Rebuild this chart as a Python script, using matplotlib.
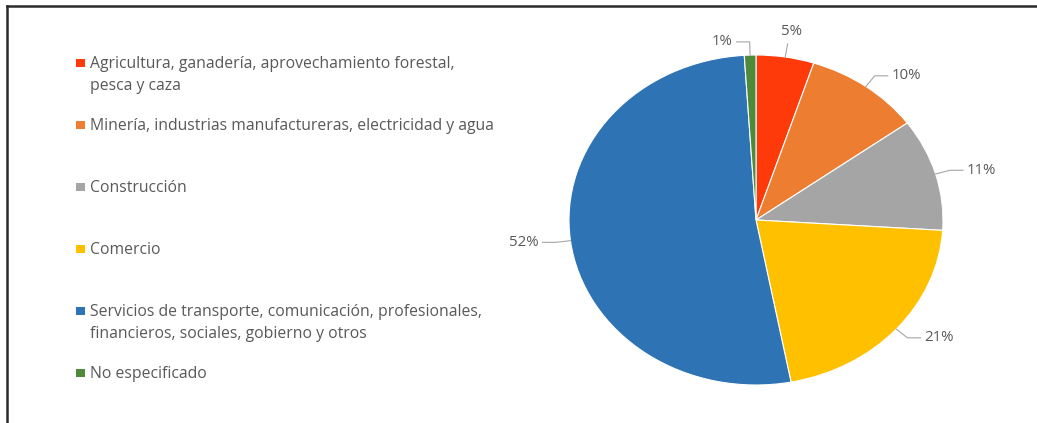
import numpy as np
import matplotlib.pyplot as plt
from matplotlib.patches import Rectangle
from matplotlib.lines import Line2D

plt.rcParams['font.family'] = ['Open Sans', 'DejaVu Sans']

sectores = [
    "Agricultura, ganadería, aprovechamiento forestal,\npesca y caza",
    "Minería, industrias manufactureras, electricidad y agua",
    "Construcción",
    "Comercio",
    "Servicios de transporte, comunicación, profesionales,\nfinancieros, sociales, gobierno y otros",
    "No especificado",
]
porcentajes = [5, 10, 11, 21, 52, 1]
colores = ["#FF3A0A", "#ED7D31", "#A5A5A5", "#FFC000", "#2E74B5", "#4F8A3A"]

W, H = 1037, 423
fig = plt.figure(figsize=(W / 100, H / 100), dpi=100)

def fx(px):
    return px / W

def fy(py):
    return 1 - py / H

# marco
fig.add_artist(Line2D([fx(7), fx(7)], [fy(6), 0], color="#2b2b2b", lw=1.8))
fig.add_artist(Line2D([fx(7), 1], [fy(6), fy(6)], color="#2b2b2b", lw=1.8))

# pastel (ligeramente eliptico como en el original)
cx, cy, rx, ry = 756, 220, 187, 165
ax = fig.add_axes([fx(cx - rx), fy(cy + ry), 2 * rx / W, 2 * ry / H])
wedges, _ = ax.pie(porcentajes, colors=colores, startangle=90, counterclock=False,
                   radius=1, wedgeprops=dict(edgecolor="white", linewidth=0.8))
ax.set_aspect('auto')
ax.set_xlim(-1, 1)
ax.set_ylim(-1, 1)

gris_linea = "#a6a6a6"
gris_texto = "#595959"
for w, p in zip(wedges, porcentajes):
    ang = np.deg2rad((w.theta1 + w.theta2) / 2)
    c, s = np.cos(ang), np.sin(ang)
    x0, y0 = c, s
    x1, y1 = 1.08 * c, 1.08 * s
    lab = f"{p}%"
    if abs(c) < 0.2 and c >= 0:
        ax.plot([x0, x1], [y0, y1], color=gris_linea, lw=0.8, clip_on=False)
        ax.text(x1 + 0.02, y1 + 0.03, lab, ha="center", va="bottom",
                fontsize=10.8, color=gris_texto)
    else:
        d = 0.07 if c >= 0 else -0.07
        ax.plot([x0, x1, x1 + d], [y0, y1, y1], color=gris_linea, lw=0.8, clip_on=False)
        ax.text(x1 + d * 1.3, y1, lab, ha="left" if c >= 0 else "right", va="center",
                fontsize=10.8, color=gris_texto)

# leyenda
for i, (txt, col) in enumerate(zip(sectores, colores)):
    y = 63 + 62 * i
    fig.add_artist(Rectangle((fx(76), fy(y + 4)), 9 / W, 8 / H, transform=fig.transFigure,
                             facecolor=col, edgecolor="none"))
    fig.text(fx(90), fy(y - 7), txt, ha="left", va="top", fontsize=11.3,
             color=gris_texto, linespacing=1.5)

fig.savefig("out.png", dpi=100)
